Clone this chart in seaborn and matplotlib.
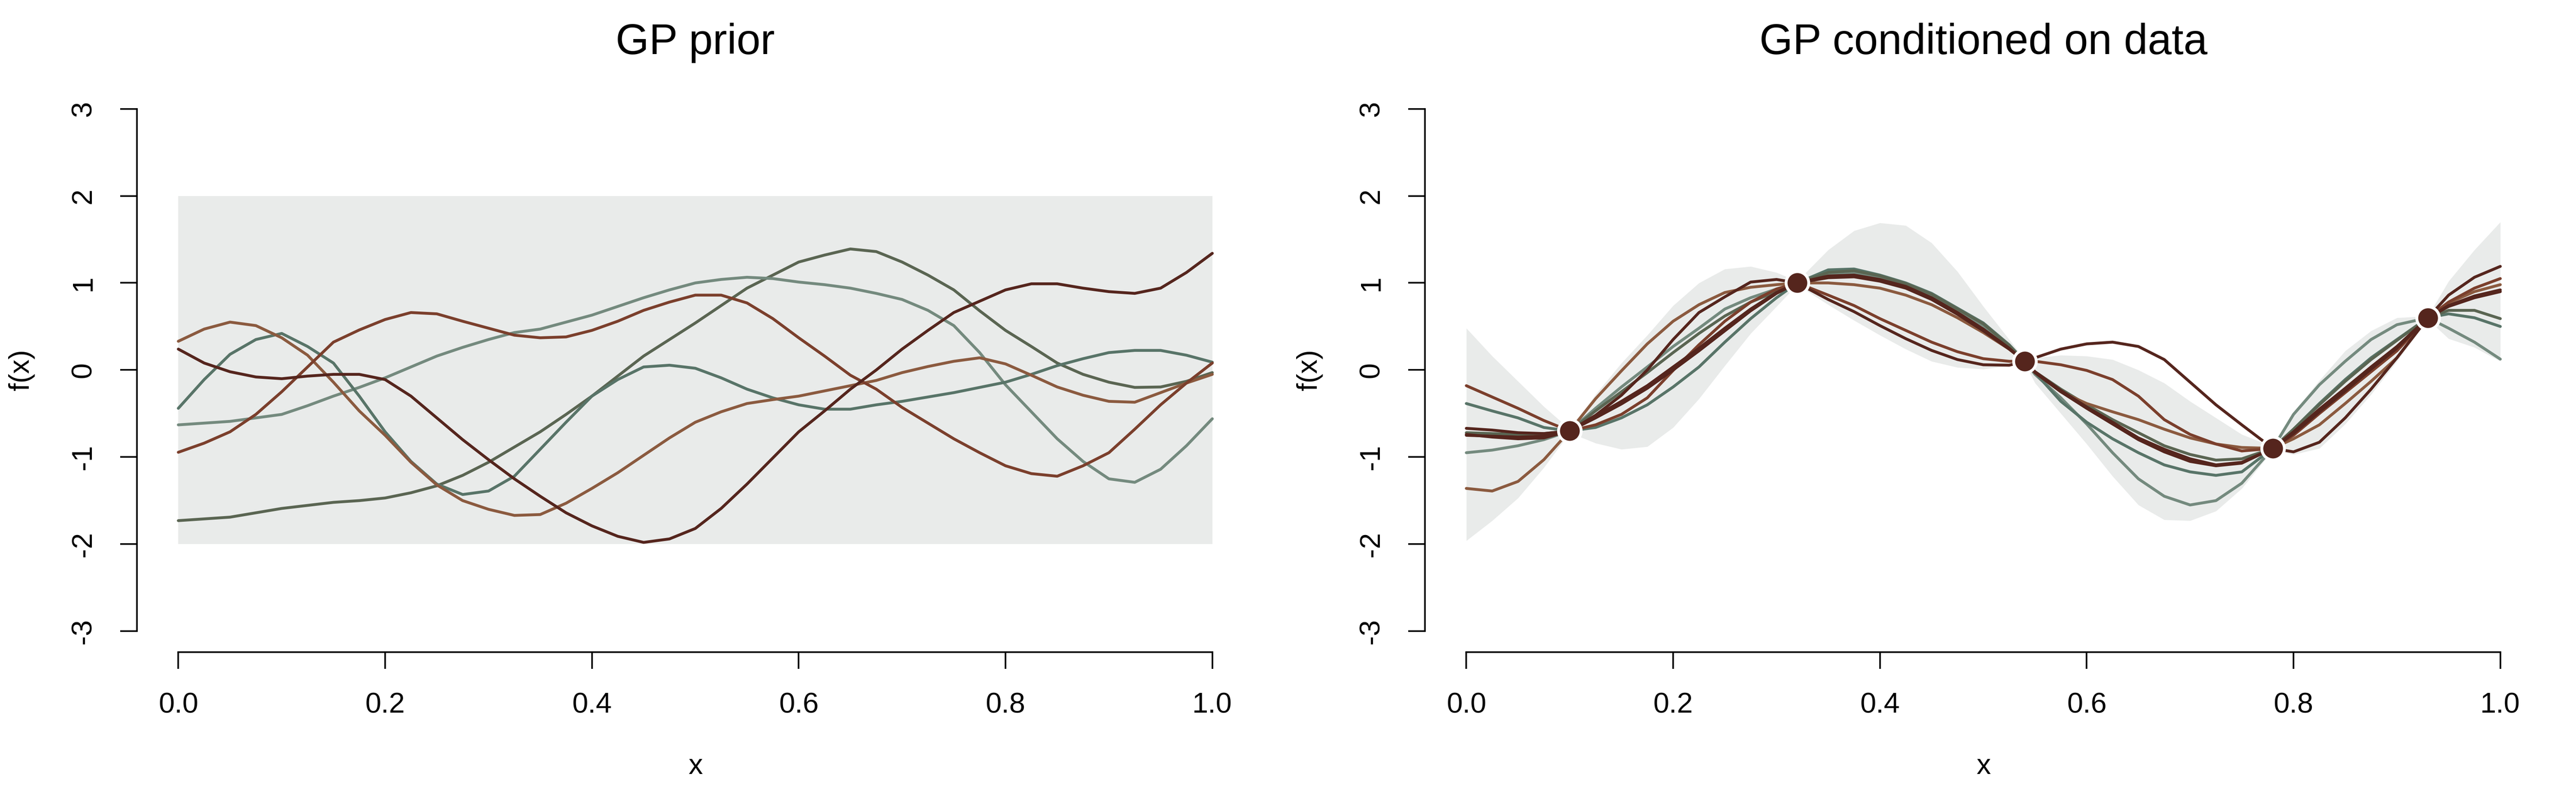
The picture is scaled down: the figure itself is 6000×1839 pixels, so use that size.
import numpy as np
import pandas as pd
import seaborn as sns
import matplotlib
matplotlib.use("Agg")
import matplotlib.pyplot as plt

# colores de las curvas
DR = "#55251d"   # rojo oscuro
RU = "#7b3f2c"   # oxido
LB = "#8b5a3f"   # marron claro
DG = "#5a6552"   # verde oliva oscuro
MG = "#587468"   # verde gris
LG = "#748a7e"   # verde gris claro
BAND = "#e9ebea"

# ---- panel izquierdo: GP prior ----
x_prior = [0.0, 0.025, 0.05, 0.075, 0.1, 0.125, 0.15, 0.175, 0.2, 0.225,
           0.25, 0.275, 0.3, 0.325, 0.35, 0.375, 0.4, 0.425, 0.45, 0.475,
           0.5, 0.525, 0.55, 0.575, 0.6, 0.625, 0.65, 0.675, 0.7, 0.725,
           0.75, 0.775, 0.8, 0.825, 0.85, 0.875, 0.9, 0.925, 0.95, 0.975, 1.0]
prior_band = [-2, 2]

prior_lb = [0.33, 0.47, 0.55, 0.51, 0.37, 0.17, -0.14, -0.47, -0.75, -1.06,
            -1.32, -1.50, -1.60, -1.67, -1.66, -1.53, -1.36, -1.18, -0.98, -0.78,
            -0.60, -0.48, -0.385, -0.34, -0.30, -0.24, -0.18, -0.12, -0.03, 0.04,
            0.10, 0.14, 0.07, -0.06, -0.195, -0.29, -0.36, -0.37, -0.26, -0.15, -0.05]
prior_dg = [-0.44, -0.11, 0.18, 0.35, 0.42, 0.27, 0.08, -0.30, -0.71, -1.05,
            -1.31, -1.43, -1.39, -1.22, -0.91, -0.60, -0.30, -0.11, 0.035, 0.055,
            0.02, -0.09, -0.22, -0.32, -0.40, -0.45, -0.45, -0.40, -0.36, -0.31,
            -0.26, -0.20, -0.14, -0.05, 0.05, 0.13, 0.20, 0.225, 0.225, 0.17, 0.09]
prior_dr = [0.24, 0.08, -0.02, -0.08, -0.10, -0.07, -0.05, -0.05, -0.11, -0.30,
            -0.55, -0.80, -1.03, -1.25, -1.45, -1.64, -1.79, -1.91, -1.98, -1.94,
            -1.82, -1.59, -1.31, -1.01, -0.71, -0.47, -0.22, 0.0, 0.24, 0.455,
            0.66, 0.79, 0.92, 0.99, 0.99, 0.94, 0.90, 0.88, 0.94, 1.12, 1.34]
prior_ru = [-0.945, -0.84, -0.71, -0.51, -0.25, 0.035, 0.32, 0.46, 0.58, 0.66,
            0.645, 0.56, 0.48, 0.40, 0.37, 0.38, 0.455, 0.56, 0.685, 0.78,
            0.86, 0.86, 0.77, 0.59, 0.37, 0.16, -0.06, -0.22, -0.43, -0.61,
            -0.79, -0.95, -1.10, -1.19, -1.22, -1.10, -0.95, -0.68, -0.40, -0.15, 0.08]
prior_lg = [-0.63, -0.61, -0.59, -0.55, -0.51, -0.41, -0.30, -0.20, -0.09, 0.035,
            0.16, 0.26, 0.35, 0.43, 0.47, 0.55, 0.63, 0.73, 0.83, 0.92,
            1.0, 1.04, 1.065, 1.05, 1.01, 0.98, 0.94, 0.88, 0.81, 0.685,
            0.51, 0.20, -0.17, -0.48, -0.79, -1.05, -1.25, -1.29, -1.14, -0.87, -0.56]
prior_mg = [-1.73, -1.71, -1.69, -1.64, -1.59, -1.555, -1.52, -1.50, -1.47, -1.41,
            -1.33, -1.21, -1.06, -0.885, -0.71, -0.51, -0.30, -0.07, 0.16, 0.35,
            0.54, 0.74, 0.94, 1.09, 1.24, 1.32, 1.39, 1.36, 1.24, 1.09,
            0.92, 0.68, 0.455, 0.27, 0.08, -0.05, -0.14, -0.20, -0.195, -0.13, -0.03]

# ---- panel derecho: GP condicionado ----
x_post = [0.0, 0.025, 0.05, 0.075, 0.1, 0.125, 0.15, 0.175, 0.2, 0.225,
          0.25, 0.275, 0.3, 0.32, 0.35, 0.375, 0.4, 0.425, 0.45, 0.475,
          0.5, 0.525, 0.54, 0.55, 0.575, 0.6, 0.625, 0.65, 0.675, 0.7,
          0.725, 0.75, 0.78, 0.8, 0.825, 0.85, 0.875, 0.9, 0.93, 0.95, 0.975, 1.0]
obs_x = [0.1, 0.32, 0.54, 0.78, 0.93]
obs_y = [-0.7, 1.0, 0.1, -0.9, 0.6]

post_upper = [0.48, 0.16, -0.13, -0.42, -0.68,
              -0.28, 0.08, 0.40, 0.74, 1.0, 1.16, 1.19, 1.12, 1.02,
              1.38, 1.60, 1.69, 1.66, 1.46, 1.13, 0.73, 0.35, 0.12,
              0.14, 0.17, 0.16, 0.12, 0.0, -0.15, -0.36, -0.55, -0.74, -0.88,
              -0.48, -0.12, 0.22, 0.45, 0.60, 0.62,
              1.02, 1.38, 1.70]
post_lower = [-1.96, -1.73, -1.47, -1.12, -0.72,
              -0.84, -0.91, -0.88, -0.66, -0.33, 0.05, 0.42, 0.73, 0.98,
              0.75, 0.57, 0.40, 0.24, 0.10, 0.03, 0.01, 0.05, 0.08,
              -0.15, -0.50, -0.85, -1.22, -1.55, -1.72, -1.73, -1.62, -1.36, -0.92,
              -0.97, -0.90, -0.62, -0.28, 0.10, 0.58,
              0.36, 0.26, 0.10]

post_c1 = [-0.18, -0.31, -0.44, -0.58, -0.70,
           -0.63, -0.51, -0.32, -0.005, 0.29, 0.56, 0.78, 0.93, 1.0,
           0.86, 0.74, 0.59, 0.455, 0.32, 0.21, 0.13, 0.10, 0.10,
           0.10, 0.06, -0.005, -0.11, -0.30, -0.57, -0.74, -0.85, -0.93, -0.90,
           -0.75, -0.50, -0.26, -0.02, 0.22, 0.60,
           0.78, 0.94, 1.05]
post_c2 = [-0.385, -0.47, -0.55, -0.66, -0.70,
           -0.66, -0.55, -0.40, -0.195, 0.035, 0.32, 0.59, 0.83, 1.0,
           1.15, 1.16, 1.09, 1.0, 0.88, 0.71, 0.54, 0.29, 0.1,
           -0.03, -0.36, -0.60, -0.79, -0.95, -1.09, -1.17, -1.21, -1.17, -0.90,
           -0.68, -0.385, -0.11, 0.14, 0.35, 0.60,
           0.645, 0.60, 0.50]
post_c3 = [-0.67, -0.69, -0.72, -0.73, -0.70,
           -0.52, -0.29, 0.0, 0.35, 0.66, 0.84, 1.01, 1.04, 1.0,
           0.81, 0.67, 0.51, 0.36, 0.225, 0.12, 0.06, 0.055, 0.1,
           0.14, 0.24, 0.30, 0.32, 0.27, 0.12, -0.14, -0.40, -0.63, -0.90,
           -0.94, -0.83, -0.55, -0.22, 0.14, 0.60,
           0.86, 1.065, 1.19]
post_c4 = [-0.74, -0.77, -0.79, -0.78, -0.70,
           -0.53, -0.36, -0.18, 0.035, 0.25, 0.48, 0.70, 0.89, 1.0,
           1.08, 1.09, 1.04, 0.96, 0.83, 0.66, 0.47, 0.25, 0.1,
           -0.02, -0.235, -0.425, -0.60, -0.78, -0.91, -1.02, -1.09, -1.06, -0.90,
           -0.71, -0.45, -0.21, 0.035, 0.27, 0.60,
           0.74, 0.85, 0.92]
post_c5 = [-0.72, -0.73, -0.74, -0.73, -0.70,
           -0.47, -0.25, -0.03, 0.20, 0.42, 0.62, 0.78, 0.90, 1.0,
           1.12, 1.14, 1.08, 0.99, 0.87, 0.70, 0.53, 0.28, 0.1,
           -0.02, -0.22, -0.40, -0.57, -0.72, -0.87, -0.97, -1.035, -1.02, -0.90,
           -0.68, -0.40, -0.13, 0.12, 0.34, 0.60,
           0.685, 0.685, 0.59]
post_c6 = [-0.95, -0.92, -0.87, -0.80, -0.70,
           -0.44, -0.195, 0.035, 0.27, 0.48, 0.70, 0.83, 0.93, 1.0,
           1.09, 1.11, 1.06, 0.97, 0.85, 0.69, 0.51, 0.27, 0.1,
           -0.05, -0.32, -0.62, -0.95, -1.25, -1.45, -1.55, -1.50, -1.30, -0.90,
           -0.51, -0.17, 0.10, 0.35, 0.52, 0.60,
           0.48, 0.32, 0.125]
post_c7 = [-1.36, -1.39, -1.28, -1.03, -0.70,
           -0.33, -0.01, 0.30, 0.56, 0.75, 0.89, 0.95, 0.98, 1.0,
           1.0, 0.98, 0.94, 0.86, 0.75, 0.60, 0.43, 0.24, 0.1,
           -0.03, -0.25, -0.385, -0.48, -0.57, -0.68, -0.78, -0.85, -0.89, -0.90,
           -0.79, -0.63, -0.385, -0.13, 0.14, 0.60,
           0.77, 0.90, 0.98]
post_c8 = [-0.75, -0.76, -0.77, -0.76, -0.70,
           -0.55, -0.39, -0.21, 0.0, 0.22, 0.45, 0.68, 0.88, 1.0,
           1.06, 1.07, 1.02, 0.94, 0.81, 0.64, 0.45, 0.24, 0.1,
           -0.03, -0.25, -0.44, -0.62, -0.80, -0.94, -1.05, -1.10, -1.07, -0.90,
           -0.73, -0.48, -0.24, 0.01, 0.25, 0.60,
           0.73, 0.83, 0.90]

x_ticks = [0.0, 0.2, 0.4, 0.6, 0.8, 1.0]
x_ticklabels = ["0.0", "0.2", "0.4", "0.6", "0.8", "1.0"]
y_ticks = [-3, -2, -1, 0, 1, 2, 3]
y_ticklabels = ["-3", "-2", "-1", "0", "1", "2", "3"]

sns.set_theme(style="ticks")
plt.rcParams["font.family"] = ["Liberation Sans", "DejaVu Sans"]
plt.rcParams["axes.unicode_minus"] = False

LW = 1.6


def estilo(ax, titulo):
    ax.set_xlim(-0.04, 1.04)
    ax.set_ylim(-3.24, 3.24)
    ax.set_xticks(x_ticks)
    ax.set_xticklabels(x_ticklabels)
    ax.set_yticks(y_ticks)
    ax.set_yticklabels(y_ticklabels)
    sns.despine(ax=ax)
    ax.spines["left"].set_bounds(-3, 3)
    ax.spines["bottom"].set_bounds(0, 1)
    for s in ["left", "bottom"]:
        ax.spines[s].set_color("black")
        ax.spines[s].set_linewidth(0.9)
    ax.tick_params(axis="both", length=9.4, width=0.9, pad=13,
                   labelsize=16, color="black", labelcolor="black")
    for lab in ax.get_yticklabels():
        lab.set_rotation(90)
        lab.set_va("center")
    ax.set_xlabel("")
    ax.set_ylabel("")
    ax.grid(False)
    ax.text(0.5, 1.08, titulo, transform=ax.transAxes, ha="center",
            va="center", fontsize=24, color="black")
    ax.text(0.5, -0.203, "x", transform=ax.transAxes, ha="center",
            va="center", fontsize=16, color="black")
    ax.text(-0.1034, 0.5, "f(x)", transform=ax.transAxes, ha="center",
            va="center", rotation=90, fontsize=16, color="black")


fig = plt.figure(figsize=(20, 6.13), dpi=300)
ax1 = fig.add_axes([0.05317, 0.1735, 0.4335, 0.7151])
ax2 = fig.add_axes([0.55317, 0.1735, 0.4335, 0.7151])

# prior
ax1.fill_between([x_prior[0], x_prior[-1]], prior_band[0], prior_band[1],
                 color=BAND, linewidth=0, zorder=1)
curvas_prior = [(prior_mg, DG), (prior_lg, LG), (prior_dg, MG),
                (prior_lb, LB), (prior_ru, RU), (prior_dr, DR)]
for vals, col in curvas_prior:
    sns.lineplot(x=x_prior, y=vals, color=col, linewidth=LW, ax=ax1,
                 sort=False, estimator=None, solid_capstyle="round",
                 solid_joinstyle="round", zorder=3)
estilo(ax1, "GP prior")

# posterior
ax2.fill_between(x_post, post_lower, post_upper, color=BAND, linewidth=0, zorder=1)
curvas_post = [(post_c6, LG), (post_c2, MG), (post_c5, DG), (post_c7, LB),
               (post_c1, RU), (post_c8, DR), (post_c4, DR), (post_c3, DR)]
for vals, col in curvas_post:
    sns.lineplot(x=x_post, y=vals, color=col, linewidth=LW, ax=ax2,
                 sort=False, estimator=None, solid_capstyle="round",
                 solid_joinstyle="round", zorder=3)
sns.scatterplot(x=obs_x, y=obs_y, ax=ax2, s=160, color=DR, edgecolor="white",
                linewidth=1.6, zorder=5)
estilo(ax2, "GP conditioned on data")

fig.savefig("out.png", dpi=300, facecolor="white")
